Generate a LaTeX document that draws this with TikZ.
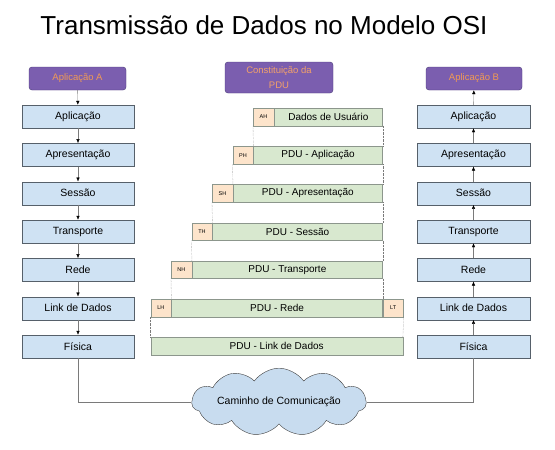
\documentclass[tikz,border=0pt]{standalone}
\usepackage{fontspec}
\setmainfont{Liberation Sans}
\usetikzlibrary{arrows.meta}
\usetikzlibrary{shapes.symbols}
\definecolor{appviolet}{HTML}{7B5EAF}
\definecolor{appedge}{HTML}{4A3A78}
\definecolor{apptext}{HTML}{F09A55}
\definecolor{layerblue}{HTML}{CFE2F3}
\definecolor{layeredge}{HTML}{56606A}
\definecolor{hdrpeach}{HTML}{FDE4CB}
\definecolor{pdugreen}{HTML}{D8E8CF}
\definecolor{pduedge}{HTML}{8C968C}
\definecolor{cloudblue}{HTML}{C8DCEF}
\definecolor{wire}{HTML}{7A7A7A}
\newcommand{\sz}[1]{\fontsize{#1}{1.2\dimexpr#1pt\relax}\selectfont}

\begin{document}
\begin{tikzpicture}[x=1pt, y=-1pt,
    app/.style={draw=appedge, fill=appviolet, rounded corners=3pt, text=apptext,
        minimum width=97pt, minimum height=23pt, inner sep=0pt, font=\sz{9.5}},
    layer/.style={draw=layeredge, fill=layerblue, minimum width=112pt,
        minimum height=23pt, inner sep=0pt, font=\sz{10.5}},
    hdr/.style={draw=pduedge, fill=hdrpeach, minimum width=20.5pt,
        minimum height=17.5pt, inner sep=0pt, anchor=north west, font=\sz{5.5}},
    pdu/.style={draw=pduedge, fill=pdugreen, minimum height=17.5pt,
        inner sep=0pt, anchor=north west, font=\sz{10}},
    arr/.style={draw=wire, -{Latex[length=4pt,width=3.5pt,black]}},
    wireline/.style={draw=wire},
    gap/.style={draw=wire, densely dotted}]
    \useasboundingbox[fill=white] (0,0) rectangle (555,450);

    % title
    \node[font=\sz{26}] (title) at (264,25) {Transmissão de Dados no Modelo OSI};

    % stack A
    \node[app] (appA) at (77.5,78.5) {Aplicação A};
    \node[layer] (a1) at (78,116.5) {Aplicação};
    \node[layer] (a2) at (78,154.8) {Apresentação};
    \node[layer] (a3) at (78,193.2) {Sessão};
    \node[layer] (a4) at (78,231.5) {Transporte};
    \node[layer] (a5) at (78,269.8) {Rede};
    \node[layer] (a6) at (78,308.2) {Link de Dados};
    \node[layer] (a7) at (78,346.5) {Física};
    \draw[arr] (appA) -- (a1);
    \draw[arr] (a1) -- (a2);
    \draw[arr] (a2) -- (a3);
    \draw[arr] (a3) -- (a4);
    \draw[arr] (a4) -- (a5);
    \draw[arr] (a5) -- (a6);
    \draw[arr] (a6) -- (a7);

    % stack B
    \node[app, minimum width=96pt] (appB) at (474,78.5) {Aplicação B};
    \node[layer, minimum width=113pt] (b1) at (473.5,116.5) {Aplicação};
    \node[layer, minimum width=113pt] (b2) at (473.5,154.8) {Apresentação};
    \node[layer, minimum width=113pt] (b3) at (473.5,193.2) {Sessão};
    \node[layer, minimum width=113pt] (b4) at (473.5,231.5) {Transporte};
    \node[layer, minimum width=113pt] (b5) at (473.5,269.8) {Rede};
    \node[layer, minimum width=113pt] (b6) at (473.5,308.2) {Link de Dados};
    \node[layer, minimum width=113pt] (b7) at (473.5,346.5) {Física};
    \draw[arr] (b1) -- (appB);
    \draw[arr] (b2) -- (b1);
    \draw[arr] (b3) -- (b2);
    \draw[arr] (b4) -- (b3);
    \draw[arr] (b5) -- (b4);
    \draw[arr] (b6) -- (b5);
    \draw[arr] (b7) -- (b6);

    % PDU
    \node[app, minimum width=108pt, minimum height=31pt, align=center,
        text=apptext!80!pink] (pduT) at (279,77.5) {Constituição da\\[4pt]PDU};
    % row 1
    \node[hdr] (h1) at (253,108) {AH};
    \node[pdu, minimum width=108.5pt] (d1) at (h1.north east) {Dados de Usuário};
    % row 2
    \node[hdr] (h2) at (232.5,146.2) {PH};
    \node[pdu, minimum width=129pt] (d2) at (h2.north east) {PDU - Aplicação};
    % row 3
    \node[hdr] (h3) at (212,184.4) {SH};
    \node[pdu, minimum width=149.5pt] (d3) at (h3.north east) {PDU - Apresentação};
    % row 4
    \node[hdr] (h4) at (191.5,222.6) {TH};
    \node[pdu, minimum width=170pt] (d4) at (h4.north east) {PDU - Sessão};
    % row 5
    \node[hdr] (h5) at (171,260.8) {NH};
    \node[pdu, minimum width=190.5pt] (d5) at (h5.north east) {PDU - Transporte};
    % row 6
    \node[hdr] (h6) at (150.5,299) {LH};
    \node[pdu, minimum width=211pt] (d6) at (h6.north east) {PDU - Rede};
    \node[hdr] (t6) at (d6.north east) {LT};
    % row 7
    \node[pdu, minimum width=252pt] (d7) at (150.5,337.2) {PDU - Link de Dados};
    % dotted guides
    \draw[gap] (h1.south west) -- (d2.north west);
    \draw[gap] (d1.south east) -- (d2.north east);
    \draw[gap] (h2.south west) -- (d3.north west);
    \draw[gap] (d2.south east) -- (d3.north east);
    \draw[gap] (h3.south west) -- (d4.north west);
    \draw[gap] (d3.south east) -- (d4.north east);
    \draw[gap] (h4.south west) -- (d5.north west);
    \draw[gap] (d4.south east) -- (d5.north east);
    \draw[gap] (h5.south west) -- (d6.north west);
    \draw[gap] (d5.south east) -- (d6.north east);
    \draw[gap] (h6.south west) -- (d7.north west);
    \draw[gap] (t6.south east) -- (d7.north east);

    % medium
    \node[cloud, cloud puffs=11, cloud puff arc=110, aspect=4, draw=black!75,
        fill=cloudblue, minimum width=165pt, minimum height=36pt, inner sep=0pt,
        font=\sz{10.5}] (net) at (279,402) {Caminho de Comunicação};
    \draw[wireline] (a7.south) |- (net.west);
    \draw[wireline] (b7.south) |- (net.east);
\end{tikzpicture}
\end{document}
